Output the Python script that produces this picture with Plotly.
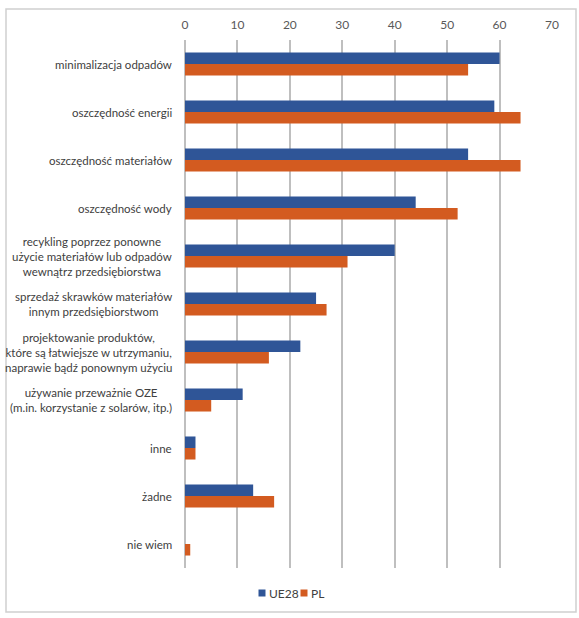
import plotly.graph_objects as go

categories = [
    "minimalizacja odpadów",
    "oszczędność energii",
    "oszczędność materiałów",
    "oszczędność wody",
    "recykling poprzez ponowne<br>użycie materiałów lub odpadów<br>wewnątrz przedsiębiorstwa",
    "sprzedaż skrawków materiałów<br>innym przedsiębiorstwom",
    "projektowanie produktów,<br>które są łatwiejsze w utrzymaniu,<br>naprawie bądź ponownym użyciu",
    "używanie przeważnie OZE<br>(m.in. korzystanie z solarów, itp.)",
    "inne",
    "żadne",
    "nie wiem",
]
ue28 = [60, 59, 54, 44, 40, 25, 22, 11, 2, 13, 0]
pl = [54, 64, 64, 52, 31, 27, 16, 5, 2, 17, 1]
x_ticks = [0, 10, 20, 30, 40, 50, 60, 70]
series_names = ["UE28", "PL"]
colors = ["#2F5597", "#D35B20"]

W, H = 579, 618
L, R, T, B = 185, 27, 40, 50
pw, ph = W - L - R, H - T - B
FONT = "Lato, Open Sans, sans-serif"
LABEL_SIZE = 11.5

fig = go.Figure()
for name, vals, col in zip(series_names, [ue28, pl], colors):
    fig.add_trace(go.Bar(y=categories, x=vals, name=name, orientation="h",
                         marker=dict(color=col, line=dict(width=0)),
                         showlegend=False))

def px(xp):
    return (xp - L) / pw

def py(yp):
    return 1 - (yp - T) / ph

# category labels, centred multi-line like the reference
for cat in categories:
    fig.add_annotation(xref="paper", yref="y", x=px(174), y=cat, text=cat,
                       showarrow=False, xanchor="right", yanchor="middle",
                       align="center",
                       font=dict(family=FONT, size=LABEL_SIZE, color="#404040"))

# outer chart border
fig.add_shape(type="rect", xref="paper", yref="paper",
              x0=px(6), x1=px(576), y0=py(612), y1=py(9),
              line=dict(color="#D0D0D0", width=1.5), layer="below")

# custom legend (small squares + text)
leg_y = 593
for name, col, sx in zip(series_names, colors, [262, 304]):
    fig.add_shape(type="rect", xref="paper", yref="paper",
                  x0=px(sx - 3.5), x1=px(sx + 3.5),
                  y0=py(leg_y + 3.5), y1=py(leg_y - 3.5),
                  fillcolor=col, line=dict(width=0))
    fig.add_annotation(xref="paper", yref="paper", x=px(sx + 5), y=py(leg_y),
                       text=name, showarrow=False, xanchor="left",
                       yanchor="middle",
                       font=dict(family=FONT, size=12, color="#404040"))

fig.update_layout(
    width=W, height=H,
    margin=dict(l=L, r=R, t=T, b=B, autoexpand=False),
    paper_bgcolor="white", plot_bgcolor="white",
    barmode="group", bargap=0.52, bargroupgap=0,
    font=dict(family=FONT, size=12, color="#404040"),
    xaxis=dict(side="top", range=[0, 70], tickvals=x_ticks, showgrid=True,
               gridcolor="#BFBFBF", gridwidth=1.5, zeroline=True,
               zerolinecolor="#BFBFBF", zerolinewidth=1.5,
               tickfont=dict(family=FONT, size=12, color="#595959"), ticks="",
               ticklabelstandoff=8,
               showline=False, automargin=False),
    yaxis=dict(autorange="reversed", ticks="", showline=False, automargin=False,
               showticklabels=False),
    showlegend=False,
)

fig.write_html("out.html", config={"displayModeBar": False},
               post_script="document.body.style.margin='0';document.body.style.overflow='hidden';")
